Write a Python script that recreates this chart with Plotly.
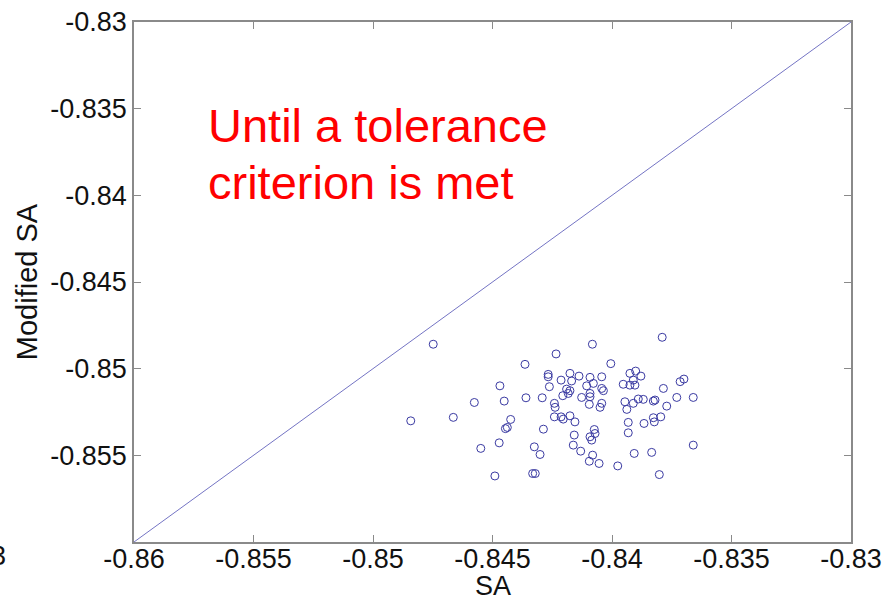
import plotly.graph_objects as go

# Scatter data: SA (x) vs Modified SA (y)
sa = [-0.84748, -0.84364, -0.84469, -0.84576, -0.84451, -0.84360, -0.84292, -0.84842,
      -0.84664, -0.84424, -0.84438, -0.84287, -0.84549, -0.84472, -0.84325, -0.84301,
      -0.84490, -0.84332, -0.84321, -0.84446, -0.83790, -0.84082, -0.84234, -0.84005,
      -0.84267, -0.84267, -0.84213, -0.84176, -0.84138, -0.84169, -0.84092, -0.84043,
      -0.84078, -0.83925, -0.83901, -0.83879, -0.83911, -0.83953, -0.83925, -0.83904,
      -0.83715, -0.83699, -0.84262, -0.84190, -0.84176, -0.84183, -0.84206, -0.84106,
      -0.84092, -0.84043, -0.84036, -0.84127, -0.84092, -0.83785, -0.83729, -0.83660,
      -0.84241, -0.84238, -0.84095, -0.84043, -0.84050, -0.83946, -0.83938, -0.83911,
      -0.83890, -0.83869, -0.83827, -0.83820, -0.83771, -0.84241, -0.84213, -0.84204,
      -0.84176, -0.84155, -0.83932, -0.83932, -0.83866, -0.83827, -0.83823, -0.83796,
      -0.84158, -0.84074, -0.84071, -0.84092, -0.84085, -0.84162, -0.84131, -0.84081,
      -0.84095, -0.84054, -0.83976, -0.83907, -0.83834, -0.83802, -0.83660]
modified_sa = [-0.84859, -0.84975, -0.85099, -0.85195, -0.85187, -0.85168, -0.85168, -0.85301,
               -0.85281, -0.85293, -0.85339, -0.85349, -0.85460, -0.85428, -0.85451, -0.85495,
               -0.85619, -0.85605, -0.85605, -0.85346, -0.84819, -0.84859, -0.84915, -0.84971,
               -0.85033, -0.85047, -0.85066, -0.85027, -0.85043, -0.85071, -0.85050, -0.85047,
               -0.85085, -0.85027, -0.85014, -0.85043, -0.85066, -0.85090, -0.85095, -0.85095,
               -0.85075, -0.85060, -0.85104, -0.85118, -0.85127, -0.85143, -0.85156, -0.85099,
               -0.85143, -0.85114, -0.85127, -0.85166, -0.85162, -0.85114, -0.85166, -0.85166,
               -0.85200, -0.85223, -0.85206, -0.85200, -0.85223, -0.85191, -0.85235, -0.85200,
               -0.85175, -0.85177, -0.85187, -0.85181, -0.85216, -0.85278, -0.85278, -0.85291,
               -0.85272, -0.85307, -0.85310, -0.85370, -0.85316, -0.85283, -0.85307, -0.85278,
               -0.85383, -0.85351, -0.85374, -0.85393, -0.85412, -0.85441, -0.85476, -0.85499,
               -0.85534, -0.85547, -0.85561, -0.85489, -0.85483, -0.85611, -0.85441]

# Identity line
diag = [-0.86, -0.83]

tick_vals = [-0.86, -0.855, -0.85, -0.845, -0.84, -0.835, -0.83]
tick_text = ["-0.86", "-0.855", "-0.85", "-0.845", "-0.84", "-0.835", "-0.83"]
y_tick_vals = [-0.855, -0.85, -0.845, -0.84, -0.835, -0.83]
y_tick_text = ["-0.855", "-0.85", "-0.845", "-0.84", "-0.835", "-0.83"]

FONT = "Liberation Sans, Arial, sans-serif"

fig = go.Figure()
fig.add_trace(go.Scatter(x=diag, y=diag, mode="lines",
                         line=dict(color="#7474c4", width=1), hoverinfo="skip"))
fig.add_trace(go.Scatter(x=sa, y=modified_sa, mode="markers",
                         marker=dict(symbol="circle-open", size=8, color="#3a3aa2",
                                     line=dict(width=1, color="#3a3aa2"))))

axis_common = dict(
    showgrid=False, zeroline=False, showline=True, linecolor="#8a8a8a", linewidth=1.5,
    mirror="ticks", ticks="inside", ticklen=7, tickwidth=1, tickcolor="#8a8a8a",
    tickfont=dict(family=FONT, size=27, color="#111111"),
)

fig.update_layout(
    width=895, height=600,
    margin=dict(l=134, r=44, t=22, b=58, autoexpand=False),
    paper_bgcolor="white", plot_bgcolor="white",
    showlegend=False,
    font=dict(family=FONT, color="#111111"),
    xaxis=dict(range=[-0.86, -0.83], tickvals=tick_vals, ticktext=tick_text,
               ticklabelstandoff=-8, **axis_common),
    yaxis=dict(range=[-0.86, -0.83], tickvals=y_tick_vals, ticktext=y_tick_text,
               title=dict(text="Modified SA", font=dict(family=FONT, size=29), standoff=4),
               ticklabelstandoff=0, **axis_common),
    annotations=[
        dict(text="SA", xref="paper", yref="paper", x=0.5, y=-0.0853,
             xanchor="center", yanchor="middle", showarrow=False,
             font=dict(family=FONT, size=27, color="#111111")),
        dict(text="Until a tolerance", xref="paper", yref="paper", x=0.1, y=0.8005,
             xanchor="left", yanchor="middle", showarrow=False,
             font=dict(family=FONT, size=47, color="#ff0000")),
        dict(text="criterion is met", xref="paper", yref="paper", x=0.1, y=0.6905,
             xanchor="left", yanchor="middle", showarrow=False,
             font=dict(family=FONT, size=47, color="#ff0000")),
        dict(text="3", xref="paper", yref="paper", x=-0.1757, y=-0.0275,
             xanchor="right", yanchor="middle", showarrow=False,
             font=dict(family=FONT, size=27, color="#111111")),
    ],
)

fig.write_html("out.html")
